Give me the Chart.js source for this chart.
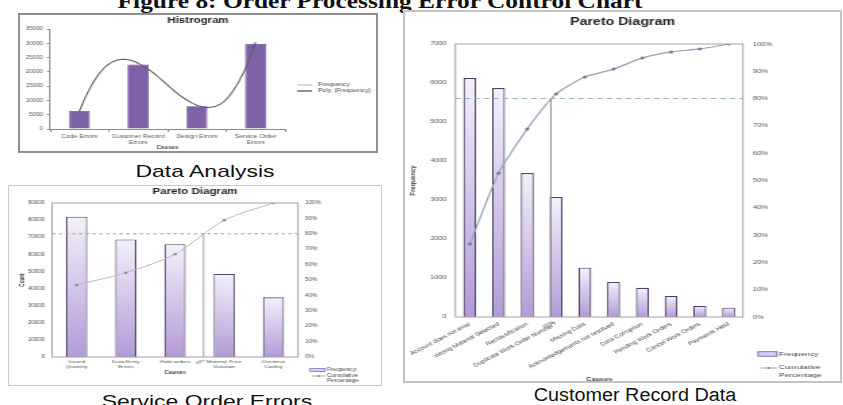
<!DOCTYPE html>
<html>
<head>
<meta charset="utf-8">
<title>Order Processing Error Control Chart</title>
<script src="https://cdn.jsdelivr.net/npm/chart.js@4.4.1/dist/chart.umd.min.js"></script>
<style>
html,body{margin:0;padding:0;background:#fff;}
body{width:843px;height:405px;overflow:hidden;position:relative;}
.cap{position:absolute;white-space:nowrap;line-height:1;color:#111;font-family:"Liberation Sans",Arial,sans-serif;font-weight:normal;transform-origin:50% 50%;}
.panel{position:absolute;overflow:hidden;background:#fff;}
.panel .wrap{position:absolute;left:0;top:0;transform-origin:0 0;}
.panel .frame{position:absolute;left:0;top:0;right:0;bottom:0;box-sizing:border-box;pointer-events:none;}
canvas{display:block;}
</style>
</head>
<body>
<div class="cap" id="figTitle" style="left:380px;top:-9px;font-family:'Liberation Serif',serif;font-weight:bold;font-size:20px;transform:translateX(-50%) scaleX(1.27)">Figure 8: Order Processing Error Control Chart</div>
<div class="cap" style="left:205px;top:163px;font-size:17px;transform:translateX(-50%) scaleX(1.35)">Data Analysis</div>
<div class="cap" style="left:207px;top:393px;font-size:17px;transform:translateX(-50%) scaleX(1.35)">Service Order Errors</div>
<div class="cap" style="left:635px;top:385.5px;font-size:18px;transform:translateX(-50%) scaleX(1.1)">Customer Record Data</div>
<script>
// ---------------- data ----------------
// Histogram (Data Analysis)
const histCategories = [['Code Errors'], ['Customer Record', 'Errors'], ['Design Errors'], ['Service Order', 'Errors']];
const histFrequency = [6300, 22600, 8000, 29800];
const histPolyPos   = [1.00, 1.10, 1.20, 1.30, 1.40, 1.50, 1.60, 1.70, 1.80, 1.90, 2.00, 2.20, 2.40, 2.60, 2.80, 3.00, 3.20, 3.40, 3.60, 3.80, 4.00];
const histPolyValue = [6200, 11000, 15000, 18300, 20900, 22700, 23800, 24300, 24300, 23900, 23000, 20500, 17200, 13600, 10500, 8300, 7500, 8700, 12900, 20000, 30400];
const histYMax = 35000, histYStep = 5000;

// Pareto (Service Order Errors)
const soeCategories = [['Issued', 'Quantity'], ['Data Entry', 'Errors'], ['Hold orders'], ['Material Price', 'Variation'], ['Overtime', 'Coding']];
const soeFrequency  = [82000, 68700, 65900, 48500, 34900];
const soeCumulative = [46.8, 54.7, 66.8, 88.8, 100];
const soeYMax = 90000, soeYStep = 10000;
const soeThreshold = 80, soeCrossIndex = 2.58;

// Pareto (Customer Record Data)
const crdCategories = ['Account does not exist', 'Wrong Material Selected', 'Reclassification', 'Duplicate Work Order Number?', 'Missing Data', 'Acknowledgements not resolved', 'Data Corruption', 'Pending Work Orders', 'Cancel Work Orders', 'Payments Held'];
const crdFrequency  = [6130, 5870, 3690, 3080, 1265, 900, 750, 540, 285, 240];
const crdCumulative = [26.7, 52.7, 68.9, 81.7, 87.9, 90.8, 94.9, 97.1, 98.2, 100];
const crdYMax = 7000, crdYStep = 1000;
const crdThreshold = 80, crdCrossIndex = 2.82;

const pctMax = 100, pctStep = 10;

// ---------------- helpers ----------------
const FF = "'Liberation Sans', Arial, sans-serif";
const SX = 1.35;

function panel(x, y, w, h, border) {
  const div = document.createElement('div');
  div.className = 'panel';
  Object.assign(div.style, {left: x + 'px', top: y + 'px', width: w + 'px', height: h + 'px'});
  const wi = Math.round(w / SX);
  const sx = w / wi;
  const wrap = document.createElement('div');
  wrap.className = 'wrap';
  wrap.style.transform = 'scaleX(' + sx + ')';
  const cv = document.createElement('canvas');
  cv.width = wi; cv.height = h;
  cv.style.width = wi + 'px'; cv.style.height = h + 'px';
  wrap.appendChild(cv); div.appendChild(wrap);
  const fr = document.createElement('div');
  fr.className = 'frame'; fr.style.border = border;
  div.appendChild(fr);
  document.body.appendChild(div);
  return {cv, sx, wi, h, X: v => v / sx};
}

function barGradient(ctx) {
  const chart = ctx.chart;
  const v = ctx.raw;
  if (!chart.chartArea || typeof v !== 'number') return '#d8cdee';
  const ys = chart.scales.y;
  const top = ys.getPixelForValue(v), bot = ys.getPixelForValue(0);
  const g = chart.ctx.createLinearGradient(0, top, 0, bot);
  g.addColorStop(0, '#f4f1fa');
  g.addColorStop(1, '#b39ad8');
  return g;
}

const deco = {
  id: 'deco',
  beforeDraw(chart) {
    const c = chart.ctx;
    c.save(); c.fillStyle = '#fff'; c.fillRect(0, 0, chart.width, chart.height); c.restore();
  },
  afterDatasetsDraw(chart, args, o) {
    const t = o.threshold;
    if (!t) return;
    const c = chart.ctx, a = chart.chartArea;
    const y = chart.scales[t.axis].getPixelForValue(t.value);
    const x = chart.scales.x.getPixelForValue(t.crossIndex);
    c.save();
    c.strokeStyle = t.dashColor; c.lineWidth = 1; c.setLineDash(t.dash);
    c.beginPath(); c.moveTo(a.left, y); c.lineTo(a.right, y); c.stroke();
    c.setLineDash([]);
    c.strokeStyle = t.vColor; c.lineWidth = t.vWidth;
    c.beginPath(); c.moveTo(x, y); c.lineTo(x, a.bottom); c.stroke();
    if (t.label) {
      c.translate(x + t.label.dx, a.bottom + t.label.dy);
      c.rotate(-t.label.rot * Math.PI / 180);
      c.font = t.label.size + 'px ' + FF; c.fillStyle = '#555';
      c.textAlign = 'right'; c.textBaseline = 'middle';
      c.fillText(t.label.text, 0, 0);
    }
    c.restore();
  },
  afterDraw(chart, args, o) {
    const c = chart.ctx, a = chart.chartArea;
    c.save();
    if (o.catTicks) {
      const xs = chart.scales.x, n = o.catTicks.count;
      c.strokeStyle = o.catTicks.color; c.lineWidth = 1;
      for (let i = 0; i <= n; i++) {
        const px = Math.round(xs.getPixelForValue(i + 0.5)) + 0.5;
        c.beginPath(); c.moveTo(px, a.bottom); c.lineTo(px, a.bottom + o.catTicks.len); c.stroke();
      }
    }
    if (o.plotBorder) {
      c.strokeStyle = o.plotBorder; c.lineWidth = 1;
      c.strokeRect(a.left, a.top, a.right - a.left, a.bottom - a.top);
    }
    if (o.title) {
      c.font = 'bold ' + o.title.size + 'px ' + FF; c.fillStyle = '#222';
      c.textAlign = 'center'; c.textBaseline = 'middle';
      c.fillText(o.title.text, chart.width / 2, o.title.y);
    }
    (o.legend || []).forEach(it => {
      if (it.type === 'box') {
        c.fillStyle = it.fill; c.fillRect(it.x1, it.y - it.h / 2, it.x2 - it.x1, it.h);
        c.strokeStyle = it.stroke; c.lineWidth = 0.8;
        c.strokeRect(it.x1, it.y - it.h / 2, it.x2 - it.x1, it.h);
      } else {
        c.strokeStyle = it.stroke; c.lineWidth = it.lw || 1;
        c.beginPath(); c.moveTo(it.x1, it.y); c.lineTo(it.x2, it.y); c.stroke();
        if (it.marker) {
          c.fillStyle = it.marker; c.beginPath();
          c.arc((it.x1 + it.x2) / 2, it.y, 1, 0, Math.PI * 2); c.fill();
        }
      }
      c.font = it.size + 'px ' + FF; c.fillStyle = '#444';
      c.textAlign = 'left'; c.textBaseline = 'middle';
      it.text.forEach((s, i) => c.fillText(s, it.tx, it.ty[i]));
    });
    c.restore();
  }
};

const plain = v => String(v);
const pct = v => v + '%';

// ---------------- Chart 1: Histogram ----------------
(function () {
  const P = panel(18, 13, 360, 140, '2px solid #8e8e8e');
  const X = P.X;
  const plot = {l: 32, r: 267, t: 16};
  new Chart(P.cv, {
    type: 'bar',
    data: {
      datasets: [
        {type: 'line', label: 'Poly. (Frequency)', data: histPolyPos.map((p, i) => ({x: p, y: histPolyValue[i]})),
         borderColor: '#5e5e5e', borderWidth: 1.1, pointRadius: 0, tension: 0.4, order: 0},
        {type: 'bar', label: 'Frequency', data: histFrequency.map((v, i) => ({x: i + 1, y: v})),
         backgroundColor: '#7e61a7', borderColor: '#6a4f95', borderWidth: 0.8, barPercentage: 0.36, categoryPercentage: 1, order: 1}
      ]
    },
    options: {
      responsive: false, animation: false, devicePixelRatio: 1,
      layout: {padding: {left: 0, top: plot.t, right: X(360 - plot.r), bottom: 3}},
      plugins: {
        legend: {display: false}, tooltip: {enabled: false},
        deco: {
          catTicks: {count: histCategories.length, len: 3, color: '#8a8a8a'},
          title: {text: 'Histrogram', size: 8.5, y: 8},
          legend: [
            {type: 'line', stroke: '#b9a8d6', lw: 1, x1: X(279), x2: X(294), y: 72, text: ['Frequency'], tx: X(300), ty: [72], size: 5},
            {type: 'line', stroke: '#444', lw: 1.2, x1: X(279), x2: X(294), y: 78, text: ['Poly. (Frequency)'], tx: X(300), ty: [78], size: 5}
          ]
        }
      },
      scales: {
        x: {type: 'linear', min: 0.5, max: 4.5, offset: false,
            afterBuildTicks: s => { s.ticks = histCategories.map((_, i) => ({value: i + 1})); },
            grid: {display: false, drawTicks: false},
            border: {display: true, color: '#8a8a8a', width: 1},
            ticks: {autoSkip: false, maxRotation: 0, minRotation: 0, padding: 5, font: {size: 5, family: FF, lineHeight: 1.15}, color: '#555',
                    callback: v => histCategories[Math.round(v) - 1] || ''},
            title: {display: true, text: 'Causes', padding: 0, font: {size: 4.5, weight: 'bold', family: FF}, color: '#444'},
            afterFit: s => { s.height = 21; }},
        y: {min: 0, max: histYMax,
            ticks: {stepSize: histYStep, padding: X(4), font: {size: 4.6, family: FF}, color: '#555', callback: plain},
            grid: {drawOnChartArea: false, tickLength: X(3), color: '#8a8a8a'},
            border: {color: '#8a8a8a'},
            afterFit: s => { s.width = X(plot.l); }}
      }
    },
    plugins: [deco]
  });
})();

// ---------------- Chart 2: Service Order Errors Pareto ----------------
(function () {
  const P = panel(8, 185, 374, 201, '1px solid #c9c9c9');
  const X = P.X;
  const plot = {l: 44, r: 290, t: 18};
  const y2W = 40;
  new Chart(P.cv, {
    type: 'bar',
    data: {
      labels: soeCategories,
      datasets: [
        {type: 'line', label: 'Cumulative Percentage', data: soeCumulative, yAxisID: 'y2',
         borderColor: '#b8b8bf', borderWidth: 1, pointRadius: 1.2, pointBackgroundColor: '#7f8898', pointBorderWidth: 0, tension: 0.3, order: 0},
        {type: 'bar', label: 'Frequency', data: soeFrequency, yAxisID: 'y',
         backgroundColor: barGradient, borderColor: '#55466f', borderWidth: 1.1, barPercentage: 0.43, categoryPercentage: 1, order: 1}
      ]
    },
    options: {
      responsive: false, animation: false, devicePixelRatio: 1,
      layout: {padding: {left: 0, top: plot.t, right: X(374 - plot.r - y2W), bottom: 11}},
      plugins: {
        legend: {display: false}, tooltip: {enabled: false},
        deco: {
          plotBorder: '#a0a0a0',
          title: {text: 'Pareto Diagram', size: 8.5, y: 7},
          threshold: {axis: 'y2', value: soeThreshold, crossIndex: soeCrossIndex, dashColor: '#9a9a9a', dash: [2.5, 2.5], vColor: '#8a8a8a', vWidth: 0.8,
                      label: {text: '80%', dx: 1, dy: 3, rot: 30, size: 3.6}},
          legend: [
            {type: 'box', fill: '#d9ccef', stroke: '#8a72b5', x1: X(302), x2: X(317), y: 185, h: 3, text: ['Frequency'], tx: X(319), ty: [185], size: 4.6},
            {type: 'line', stroke: '#9a9aa5', lw: 0.8, marker: '#7f8898', x1: X(304), x2: X(317), y: 191, text: ['Cumulative', 'Percentage'], tx: X(319), ty: [191, 195.5], size: 4.6}
          ]
        }
      },
      scales: {
        x: {type: 'category', offset: true, grid: {display: false, drawTicks: false}, border: {display: false},
            ticks: {autoSkip: false, maxRotation: 0, minRotation: 0, padding: 2.5, font: {size: 4.3, family: FF, lineHeight: 1.1}, color: '#555'},
            title: {display: true, text: 'Causes', padding: 0, font: {size: 4.5, weight: 'bold', family: FF}, color: '#444'},
            afterFit: s => { s.height = 18; }},
        y: {min: 0, max: soeYMax,
            ticks: {stepSize: soeYStep, padding: X(7), font: {size: 4.6, family: FF}, color: '#555', callback: plain},
            grid: {display: false, drawTicks: false}, border: {display: false},
            title: {display: true, text: 'Count', padding: {top: 8.3, bottom: 0}, font: {size: 4.6, weight: 'bold', family: FF}, color: '#444'},
            afterFit: s => { s.width = X(plot.l); }},
        y2: {position: 'right', min: 0, max: pctMax,
             ticks: {stepSize: pctStep, padding: X(7), font: {size: 4.6, family: FF}, color: '#555', callback: pct},
             grid: {display: false, drawTicks: false}, border: {display: false},
             afterFit: s => { s.width = X(y2W); }}
      }
    },
    plugins: [deco]
  });
})();

// ---------------- Chart 3: Customer Record Data Pareto ----------------
(function () {
  const P = panel(403, 10, 439, 373, '2px solid #c4c4c4');
  const X = P.X;
  const plot = {l: 48, r: 340, t: 34};
  const y2W = 60;
  new Chart(P.cv, {
    type: 'bar',
    data: {
      labels: crdCategories,
      datasets: [
        {type: 'line', label: 'Cumulative Percentage', data: crdCumulative, yAxisID: 'y2',
         borderColor: '#98a2b6', borderWidth: 1.2, pointRadius: 1.5, pointBackgroundColor: '#6f7d96', pointBorderWidth: 0, tension: 0.2, order: 0},
        {type: 'bar', label: 'Frequency', data: crdFrequency, yAxisID: 'y',
         backgroundColor: barGradient, borderColor: '#4e4068', borderWidth: 1.2, barPercentage: 0.45, categoryPercentage: 1, order: 1}
      ]
    },
    options: {
      responsive: false, animation: false, devicePixelRatio: 1,
      layout: {padding: {left: 0, top: plot.t, right: X(439 - plot.r - y2W), bottom: 0}},
      plugins: {
        legend: {display: false}, tooltip: {enabled: false},
        deco: {
          plotBorder: '#a3a3a3',
          title: {text: 'Pareto Diagram', size: 10.5, y: 12},
          threshold: {axis: 'y2', value: crdThreshold, crossIndex: crdCrossIndex, dashColor: '#8fb0ae', dash: [4, 3], vColor: '#8a8a8a', vWidth: 0.9,
                      label: {text: '80%', dx: 2, dy: 5, rot: 35, size: 4.5}},
          legend: [
            {type: 'box', fill: '#d9ccef', stroke: '#6f5a99', x1: X(355), x2: X(374), y: 344, h: 4.5, text: ['Frequency'], tx: X(376), ty: [344], size: 6.2},
            {type: 'line', stroke: '#98a2b6', lw: 1, marker: '#6f7d96', x1: X(357), x2: X(374), y: 358, text: ['Cumulative', 'Percentage'], tx: X(376), ty: [357, 365], size: 6.2}
          ]
        }
      },
      scales: {
        x: {type: 'category', offset: true, grid: {display: false, drawTicks: false}, border: {display: false},
            ticks: {autoSkip: false, maxRotation: 35, minRotation: 35, padding: 4, font: {size: 5.3, family: FF}, color: '#444'},
            title: {display: true, text: 'Causes', padding: 0, font: {size: 5.5, weight: 'bold', family: FF}, color: '#444'},
            afterFit: s => { s.height = 66; }},
        y: {min: 0, max: crdYMax,
            ticks: {stepSize: crdYStep, padding: X(9), font: {size: 5.4, family: FF}, color: '#555', callback: plain},
            grid: {display: false, drawTicks: false}, border: {display: false},
            title: {display: true, text: 'Frequency', padding: 0, font: {size: 6, weight: 'bold', family: FF}, color: '#444'},
            afterFit: s => { s.width = X(plot.l); }},
        y2: {position: 'right', min: 0, max: pctMax,
             ticks: {stepSize: pctStep, padding: X(10), font: {size: 5.6, family: FF}, color: '#555', callback: pct},
             grid: {display: false, drawTicks: false}, border: {display: false},
             afterFit: s => { s.width = X(y2W); }}
      }
    },
    plugins: [deco]
  });
})();
</script>
</body>
</html>
